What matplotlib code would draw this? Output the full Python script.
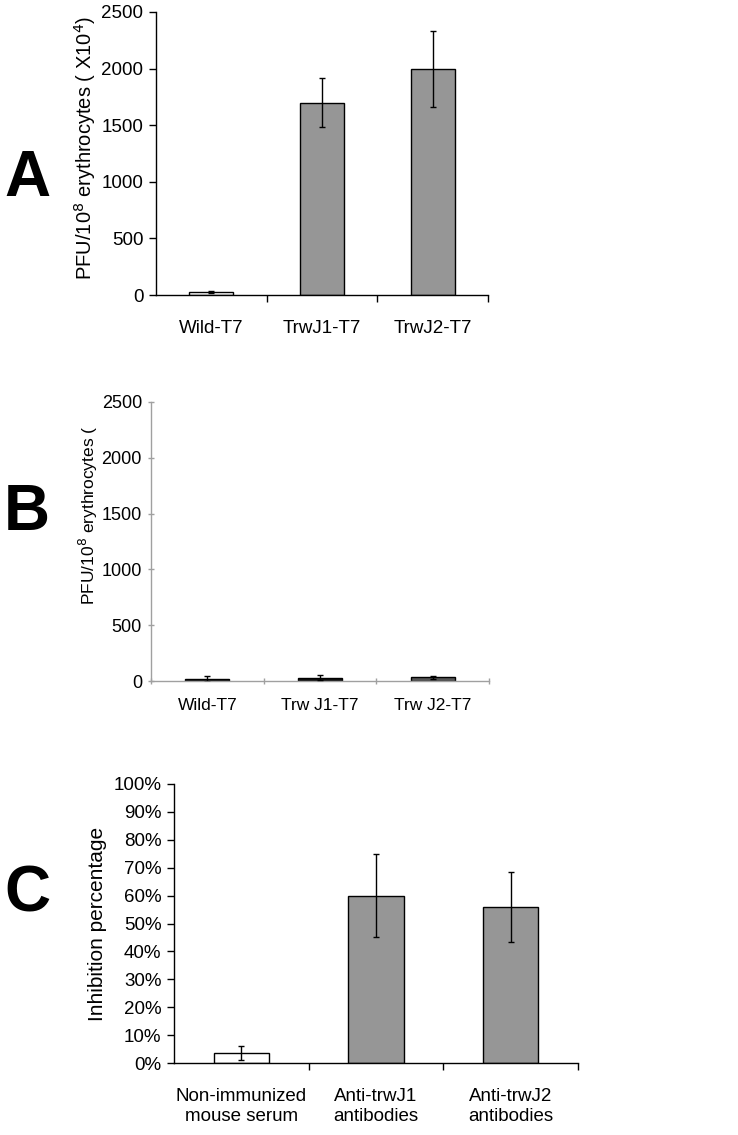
"""
Phage binding to erythrocytes and antibody inhibition — three stacked bar panels.
"""

import numpy as np
import matplotlib
matplotlib.use("Agg")
import matplotlib.pyplot as plt
from matplotlib.ticker import FixedLocator, PercentFormatter

plt.rcParams["font.family"] = ["Liberation Sans", "DejaVu Sans"]

# ── Data ──────────────────────────────────────────────────────────────────────
A_LABELS = ["Wild-T7", "TrwJ1-T7", "TrwJ2-T7"]
A_VALUES = [24, 1700, 2000]
A_ERRORS = [9, 220, 335]
A_COLORS = ["white", "#969696", "#969696"]

B_LABELS = ["Wild-T7", "Trw J1-T7", "Trw J2-T7"]
B_VALUES = [18, 28, 33]
B_ERRORS = [24, 22, 12]
B_COLORS = ["#111111", "#111111", "#555555"]

C_LABELS = ["Non-immunized\nmouse serum", "Anti-trwJ1\nantibodies", "Anti-trwJ2\nantibodies"]
C_VALUES = [3.5, 60, 56]
C_ERRORS = [2.5, 15, 12.5]
C_COLORS = ["white", "#969696", "#969696"]

W, H = 738, 1135
fig = plt.figure(figsize=(W / 100, H / 100), dpi=100)


def axes_px(left, right, top, bottom):
    return fig.add_axes([left / W, 1 - bottom / H, (right - left) / W, (bottom - top) / H])


def bar_panel(ax, labels, values, errors, colors, width, axis_color,
              tick_dir, label_pad, boundaries):
    x = np.arange(len(labels))
    ax.bar(x, values, width=width, color=colors, edgecolor="black",
           linewidth=1.0, zorder=2)
    ax.errorbar(x, values, yerr=errors, fmt="none", ecolor="black",
                elinewidth=1.0, capsize=2.2, capthick=1.0, zorder=3)
    ax.set_xlim(-0.5, len(labels) - 0.5)
    for side in ("top", "right"):
        ax.spines[side].set_visible(False)
    for side in ("left", "bottom"):
        ax.spines[side].set_color(axis_color)
        ax.spines[side].set_linewidth(1.0)
    ax.xaxis.set_major_locator(FixedLocator(boundaries))
    ax.xaxis.set_minor_locator(FixedLocator(x))
    ax.set_xticklabels([], minor=False)
    ax.set_xticks(x, labels, minor=True)
    ax.tick_params(axis="x", which="major", direction=tick_dir, length=5,
                   color=axis_color, width=1.0)
    ax.tick_params(axis="x", which="minor", length=0, pad=label_pad,
                   labelsize=13.5)
    ax.tick_params(axis="y", direction=tick_dir, length=5, color=axis_color,
                   width=1.0, labelsize=13.5, pad=4)


# ── Panel A ───────────────────────────────────────────────────────────────────
axA = axes_px(156, 488, 12, 295)
bar_panel(axA, A_LABELS, A_VALUES, A_ERRORS, A_COLORS, 0.4, "black", "out",
          18, [0.5, 1.5, 2.5])
axA.set_ylim(0, 2500)
axA.set_yticks(np.arange(0, 2501, 500))
axA.set_ylabel(r"PFU/10$^{8}$ erythrocytes ( X10$^{4}$)", fontsize=14.5)
axA.yaxis.set_label_coords(-0.175, 0.52)

# ── Panel B ───────────────────────────────────────────────────────────────────
axB = axes_px(151, 489, 402, 681)
bar_panel(axB, B_LABELS, B_VALUES, B_ERRORS, B_COLORS, 0.39, "#a0a0a0",
          "inout", 12, [-0.5, 0.5, 1.5, 2.5])
axB.set_ylim(0, 2500)
axB.set_yticks(np.arange(0, 2501, 500))
axB.tick_params(axis="x", which="minor", labelsize=12.5)
axB.tick_params(axis="y", labelsize=13)
axB.set_ylabel(r"PFU/10$^{8}$ erythrocytes (", fontsize=12.5)
axB.yaxis.set_label_coords(-0.151, 0.595)

# ── Panel C ───────────────────────────────────────────────────────────────────
axC = axes_px(174, 578, 784, 1063)
bar_panel(axC, C_LABELS, C_VALUES, C_ERRORS, C_COLORS, 0.41, "black", "out",
          18, [0.5, 1.5, 2.5])
axC.set_ylim(0, 100)
axC.set_yticks(np.arange(0, 101, 10))
axC.yaxis.set_major_formatter(PercentFormatter(decimals=0))
axC.set_ylabel("Inhibition percentage", fontsize=15)
axC.yaxis.set_label_coords(-0.166, 0.5)

# ── Panel letters ─────────────────────────────────────────────────────────────
for letter, yc in (("A", 179), ("B", 513), ("C", 895)):
    fig.text(27 / W, 1 - yc / H, letter, fontsize=46, fontweight="bold",
             ha="center", va="center")

fig.savefig("out.png", dpi=100, facecolor="white")
